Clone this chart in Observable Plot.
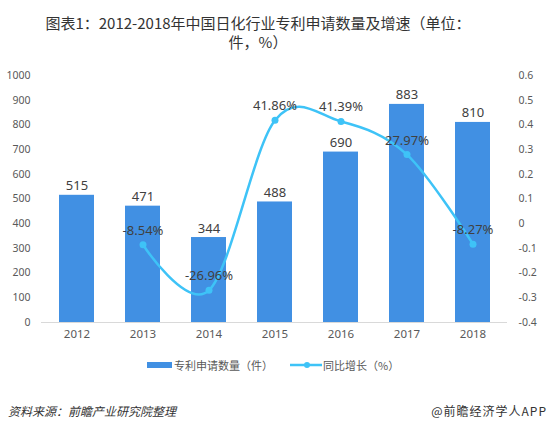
<!DOCTYPE html>
<html><head><meta charset="utf-8">
<script src="https://cdn.jsdelivr.net/npm/d3@7"></script>
<script src="https://cdn.jsdelivr.net/npm/@observablehq/plot@0.6"></script>
<style>
body{margin:0;background:#fff;font-family:"Noto Sans CJK SC","Noto Sans",sans-serif;}
#wrap{position:relative;width:551px;height:426px;overflow:hidden;background:#fff;}
.tt{position:absolute;left:0;width:516px;text-align:center;font-size:15px;line-height:18px;height:18px;color:#333;white-space:nowrap;}
#chart{position:absolute;left:0;top:55px;}
.lg{position:absolute;font-size:11px;color:#595959;line-height:14px;white-space:nowrap;}
.ft{position:absolute;font-size:12px;color:#333;white-space:nowrap;top:402px;}
</style></head>
<body>
<div id="wrap">
  <div class="tt" style="top:14px;">图表1：2012-2018年中国日化行业专利申请数量及增速（单位：</div>
  <div class="tt" style="top:33px;">件，%）</div>
  <div id="chart"></div>
  <div class="lg" style="left:147px;top:362px;width:25px;height:6px;background:#4190e3;"></div>
  <div class="lg" style="left:174px;top:358px;">专利申请数量（件）</div>
  <svg class="lg" style="left:289px;top:358px;" width="34" height="14"><line x1="1" y1="7" x2="33" y2="7" stroke="#3ec3f7" stroke-width="2.5"/><circle cx="18" cy="7" r="3" fill="#3ec3f7"/></svg>
  <div class="lg" style="left:323px;top:358px;">同比增长（%）</div>
  <div class="ft" style="left:8px;font-style:italic;">资料来源：前瞻产业研究院整理</div>
  <div class="ft" style="right:4px;letter-spacing:1px;">@前瞻经济学人APP</div>
</div>
<script>
const years = ["2012","2013","2014","2015","2016","2017","2018"];
const counts = [515, 471, 344, 488, 690, 883, 810];
const growth = [null, -0.0854, -0.2696, 0.4186, 0.4139, 0.2797, -0.0827];
const growthLabels = ["", "-8.54%", "-26.96%", "41.86%", "41.39%", "27.97%", "-8.27%"];
const leftTicks = [0,100,200,300,400,500,600,700,800,900,1000];
const rightTicks = [-0.4,-0.3,-0.2,-0.1,0,0.1,0.2,0.3,0.4,0.5,0.6];

const rMin = -0.4, rMax = 0.6, lMax = 1000;
const toLeft = v => (v - rMin) / (rMax - rMin) * lMax;
const fromLeft = y => Math.round((y / lMax * (rMax - rMin) + rMin) * 10) / 10;

const bars = years.map((y, i) => ({year: y, count: counts[i]}));
const pts = years.map((y, i) => ({year: y, g: growth[i], label: growthLabels[i]})).filter(d => d.g != null);

const blue = "#4190e3", cyan = "#3ec3f7", txt = "#404040", axc = "#595959";

const chart = Plot.plot({
  width: 551, height: 300,
  marginLeft: 41, marginRight: 44, marginTop: 20, marginBottom: 33,
  style: {fontFamily: '"Noto Sans","Noto Sans CJK SC",sans-serif', background: "transparent"},
  x: {type: "band", domain: years, paddingInner: 0.47, paddingOuter: 0.235, label: null},
  y: {domain: [0, lMax], label: null},
  marks: [
    Plot.barY(bars, {x: "year", y: "count", fill: blue}),
    Plot.ruleY([0], {stroke: "#d9d9d9"}),
    Plot.axisX({tickSize: 0, tickPadding: 7, fontSize: 11.5, color: axc, label: null}),
    Plot.axisY(leftTicks, {anchor: "left", tickSize: 0, tickPadding: 11, fontSize: 10.5, color: axc, label: null, tickFormat: d => String(d)}),
    Plot.axisY(rightTicks.map(toLeft), {anchor: "right", tickSize: 0, tickPadding: 11, fontSize: 10.5, color: axc, label: null, tickFormat: d => String(fromLeft(d))}),
    Plot.text(bars, {x: "year", y: "count", text: d => String(d.count), lineAnchor: "bottom", dy: -5, fontSize: 13, fill: txt}),
    Plot.line(pts, {x: "year", y: d => toLeft(d.g), curve: "cardinal", stroke: cyan, strokeWidth: 2.5}),
    Plot.dot(pts, {x: "year", y: d => toLeft(d.g), r: 3.5, fill: cyan}),
    Plot.text(pts, {x: "year", y: d => toLeft(d.g), text: "label", lineAnchor: "bottom", dy: -10, fontSize: 13, fill: txt})
  ]
});
document.getElementById("chart").appendChild(chart);
</script>
</body></html>
